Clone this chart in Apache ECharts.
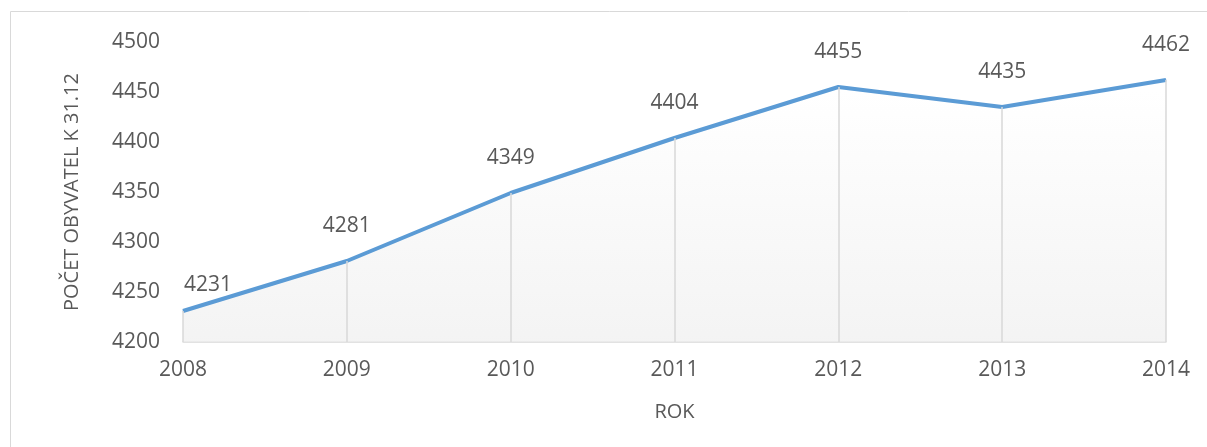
<!DOCTYPE html>
<html>
<head>
<meta charset="utf-8">
<script src="https://cdn.jsdelivr.net/npm/echarts@6/dist/echarts.min.js"></script>
<style>
  html, body { margin: 0; padding: 0; background: #fff; }
  #chart { width: 1207px; height: 447px; }
</style>
</head>
<body>
<div id="chart"></div>
<script>
// population at 31.12 of each year
const years = ['2008', '2009', '2010', '2011', '2012', '2013', '2014']
const population = [4231, 4281, 4349, 4404, 4455, 4435, 4462]
const yTicks = { min: 4200, max: 4500, step: 50 }

const font = '"Open Sans", Lato, sans-serif'
const textColor = '#595959'

const chart = echarts.init(document.getElementById('chart'))

// drop lines from each point down to the axis
const dropLines = population.map((v, i) => [
  { coord: [i, yTicks.min] },
  { coord: [i, v] }
])

const seriesData = population.map((v, i) => {
  if (i === 0) {
    // excel nudges the first label right so it does not hit the axis
    return { value: v, label: { offset: [25, 9] } }
  }
  return v
})

chart.setOption({
  animation: false,
  graphic: [{
    type: 'rect',
    shape: { x: 10.5, y: 11.5, width: 1230, height: 470 },
    style: { fill: 'none', stroke: '#d9d9d9', lineWidth: 1 },
    silent: true
  }],
  grid: { left: 183, right: 41, top: 42, bottom: 105 },
  xAxis: {
    type: 'category',
    data: years,
    boundaryGap: false,
    name: 'ROK',
    nameLocation: 'middle',
    nameGap: 60,
    nameTextStyle: { color: textColor, fontFamily: font, fontSize: 20 },
    axisLine: { lineStyle: { color: '#d9d9d9', width: 1.5 } },
    axisTick: { show: false },
    axisLabel: { color: textColor, fontFamily: font, fontSize: 21, margin: 18 },
    splitLine: { show: false }
  },
  yAxis: {
    type: 'value',
    min: yTicks.min,
    max: yTicks.max,
    interval: yTicks.step,
    name: 'POČET OBYVATEL K 31.12',
    nameLocation: 'middle',
    nameGap: 101,
    nameTextStyle: { color: textColor, fontFamily: font, fontSize: 20 },
    axisLine: { show: false },
    axisTick: { show: false },
    axisLabel: {
      color: textColor, fontFamily: font, fontSize: 21, margin: 23,
      formatter: v => String(v)
    },
    splitLine: { show: false }
  },
  series: [{
    type: 'line',
    data: seriesData,
    symbol: 'circle',
    symbolSize: 1,
    showSymbol: true,
    lineStyle: { color: '#5b9bd5', width: 4 },
    itemStyle: { color: '#5b9bd5' },
    areaStyle: {
      origin: 'start',
      color: new echarts.graphic.LinearGradient(0, 0, 0, 1, [
        { offset: 0, color: '#ffffff' },
        { offset: 1, color: '#eeeeee' }
      ])
    },
    label: {
      show: true,
      position: 'top',
      distance: 24,
      color: textColor,
      fontFamily: font,
      fontSize: 21,
      formatter: p => String(p.value)
    },
    markLine: {
      silent: true,
      symbol: 'none',
      label: { show: false },
      lineStyle: { color: '#d9d9d9', type: 'solid', width: 1.5 },
      data: dropLines
    },
    z: 3
  }]
})
</script>
</body>
</html>
